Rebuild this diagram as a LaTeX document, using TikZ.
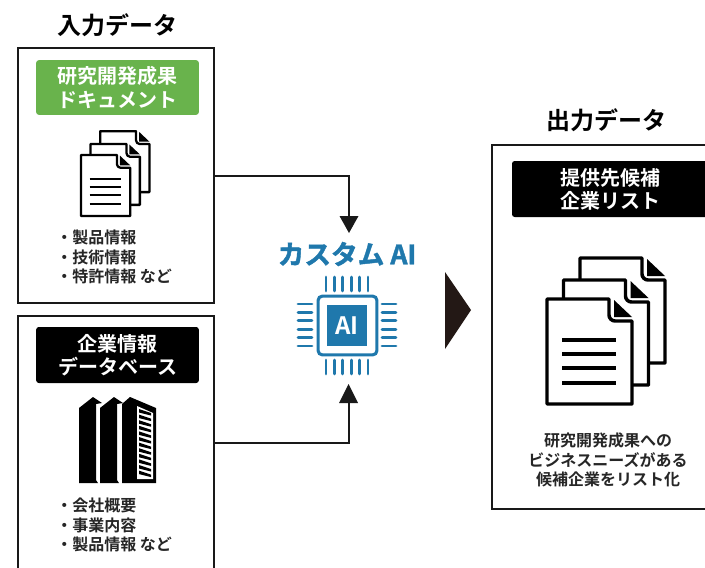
\documentclass[tikz,border=0pt]{standalone}
\usepackage{fontspec}
\setmainfont{Noto Sans CJK JP}[BoldFont={* Bold}]
\newfontfamily\aifont{Noto Sans CJK JP Bold}[FakeBold=1.6]
\definecolor{aiblue}{HTML}{1F78AC}
\definecolor{lblgreen}{HTML}{69B34C}
\definecolor{tri}{HTML}{231815}
\tikzset{
  x=0.75pt,y=-0.75pt,
  panel/.style={draw=black!90,line width=2.2pt,fill=white,inner sep=0pt,outer sep=0pt},
  lbl/.style={rounded corners=2pt,inner sep=0pt,outer sep=0pt,align=center,font=\fontsize{15}{17.3}\selectfont\bfseries,text=white},
  heading/.style={font=\fontsize{18}{20}\selectfont\bfseries,inner sep=0pt},
  bullets/.style={anchor=north west,align=left,inner sep=0pt,font=\fontsize{12}{14.6}\selectfont\bfseries,text=black!85},
  link/.style={line width=1.5pt,draw=black!90},
  tiphead/.style={fill=black!90},
  pagesheet/.style={draw=black,fill=white,line join=round},
  pin/.style={line width=2.1pt,draw=aiblue,line cap=round},
}
\newcommand{\onepage}[4]{%
  \begin{scope}[shift={(#1,#2)},x=#3*0.75pt,y=-#3*0.75pt]
    \draw[pagesheet,line width=#4] (0,0) -- (62,0) -- (62,16) to[out=-90,in=180] (68,22) -- (85,22) -- (85,105) -- (0,105) -- cycle;
    \fill[black] (67,1) -- (85,18) -- (67,18) -- cycle;
  \end{scope}}
\newcommand{\docstack}[4]{%
  \begin{scope}[shift={(#1,#2)}]
    \onepage{33*#3}{-41*#3}{#3}{#4}
    \onepage{16.5*#3}{-19*#3}{#3}{#4}
    \onepage{0}{0}{#3}{#4}
    \begin{scope}[x=#3*0.75pt,y=-#3*0.75pt,line width=#4]
      \draw (15,41) -- (69,41) (15,55) -- (69,55) (15,69) -- (69,69) (15,84) -- (69,84);
    \end{scope}
  \end{scope}}
\begin{document}
\begin{tikzpicture}
\useasboundingbox (0,0) rectangle (705,567);
% panels
\node[panel,minimum width=147pt,minimum height=191.25pt] (inbox) at (116,175.5) {};
\node[panel,minimum width=147pt,minimum height=190.5pt] (dbbox) at (116,443) {};
\node[panel,minimum width=177pt,minimum height=273pt] (outbox) at (610,327) {};
% headings
\node[heading] (intitle) at (117,25) {入力データ};
\node[heading] (outtitle) at (606,120) {出力データ};
% labels
\node[lbl,fill=lblgreen,minimum width=122pt,minimum height=41pt] (lab1) at (117.5,87.5) {研究開発成果\\ドキュメント};
\node[lbl,fill=black,minimum width=122pt,minimum height=42pt] (lab2) at (117.5,355) {企業情報\\データベース};
\node[lbl,fill=black,minimum width=147pt,minimum height=42pt] (lab3) at (610,189) {提供先候補\\企業リスト};
% document icons
\docstack{81}{155}{0.58}{1.7pt}
\docstack{547}{299}{1}{2.6pt}
% bullets
\node[bullets] (list1) at (56,230) {・製品情報\\・技術情報\\・特許情報 など};
\node[bullets] (list2) at (56,498) {・会社概要\\・事業内容\\・製品情報 など};
\node[inner sep=0pt,align=center,font=\fontsize{12}{14.6}\selectfont\bfseries,text=black!85] (outtext) at (608,460) {研究開発成果への\\ビジネスニーズがある\\候補企業をリスト化};
% buildings
\fill[black] (79,483) -- (79,408) -- (93,397) -- (102,403) -- (96,404) -- (96,480) -- (98,483) -- cycle;
\fill[black] (100,483) -- (100,408) -- (114,397) -- (123,403) -- (117,404) -- (117,480) -- (119,483) -- cycle;
\fill[black] (122,483) -- (122,404) -- (130,397) -- (156,408) -- (156,483) -- cycle;
\fill[white] (137,406) -- (153,413) -- (153,479) -- (137,479) -- cycle;
\foreach \yy in {409,414.6,...,473} \fill[black] (139,\yy) -- (151,\yy+4) -- (151,\yy+6.5) -- (139,\yy+3.5) -- cycle;
% AI
\node[inner sep=0pt,font=\fontsize{20}{22}\selectfont\aifont,text=aiblue] (ailabel) at (347,254) {カスタム AI};
\node[draw=aiblue,line width=2.3pt,rounded corners=3pt,minimum width=44pt,minimum height=44pt,inner sep=0pt] (chip) at (347.5,325.5) {};
\node[fill=aiblue,text=white,minimum width=30pt,minimum height=30.5pt,inner sep=0pt,font=\fontsize{18}{19}\selectfont\bfseries] (core) at (347,325.5) {AI};
\foreach \xx in {326,334.4,342.8,351.2,359.6,368} {
  \draw[pin] (\xx,277) -- (\xx,291);
  \draw[pin] (\xx,360) -- (\xx,374);
}
\foreach \yy in {304,312.4,320.8,329.2,337.6,346} {
  \draw[pin] (298,\yy) -- (312,\yy);
  \draw[pin] (382,\yy) -- (396,\yy);
}
% connectors
\coordinate (tipA) at (349,233);
\coordinate (tipB) at (348.5,384);
\draw[link] (inbox.east) -| (349,220);
\fill[tiphead] (tipA) -- ++(-9.5,-17) -- ++(19,0) -- cycle;
\draw[link] (dbbox.east) -| (348.5,400);
\fill[tiphead] (tipB) -- ++(-9.5,19) -- ++(19,0) -- cycle;
% big triangle
\fill[tri] (445,272) -- (471,310) -- (445,349) -- cycle;
\end{tikzpicture}
\end{document}
